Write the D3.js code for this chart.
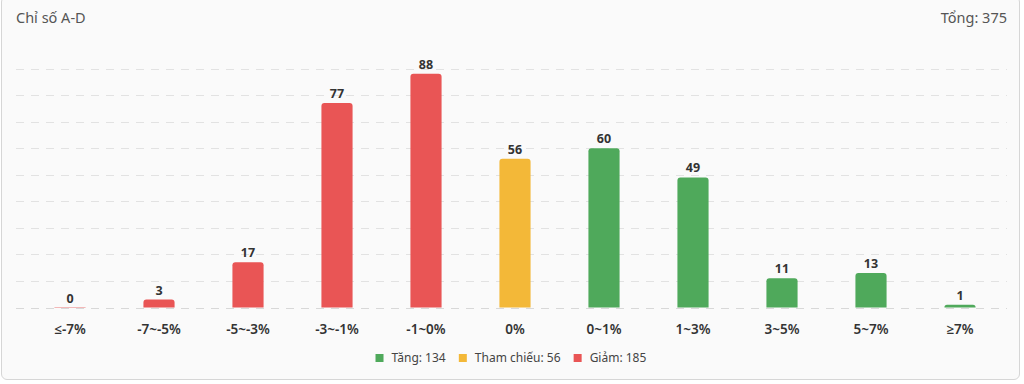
<!doctype html>
<html lang="vi">
<head>
<meta charset="UTF-8">
<title>Chỉ số A-D</title>
<script src="https://d3js.org/d3.v7.min.js"></script>
<style>
  html, body { margin: 0; padding: 0; background: #ffffff; }
  body { width: 1024px; height: 384px; overflow: hidden; font-family: "Noto Sans", "Open Sans", sans-serif; }
  #card {
    position: absolute; left: 1px; top: -4px; width: 1019px; height: 384px;
    box-sizing: border-box; border: 1px solid #d6d6d6; border-radius: 6px; background: #fafafa;
  }
  svg { position: absolute; left: 0; top: 0; }
</style>
</head>
<body>
<div id="card"></div>
<svg id="chart" width="1024" height="384"></svg>
<script>
  // data
  const categories = ["≤-7%", "-7~-5%", "-5~-3%", "-3~-1%", "-1~0%", "0%", "0~1%", "1~3%", "3~5%", "5~7%", "≥7%"];
  const counts = [0, 3, 17, 77, 88, 56, 60, 49, 11, 13, 1];
  const groups = ["down", "down", "down", "down", "down", "ref", "up", "up", "up", "up", "up"];
  const legendKeys = ["up", "ref", "down"];
  const legendLabels = ["Tăng: 134", "Tham chiếu: 56", "Giảm: 185"];
  const yTicks = [0, 10, 20, 30, 40, 50, 60, 70, 80, 90];
  const title = "Chỉ số A-D";
  const total = "Tổng: 375";

  const COLORS = { up: "#4fa95b", ref: "#f3b838", down: "#e95555" };

  const svg = d3.select("#chart");

  const x = d3.scaleBand().domain(categories).range([25.5, 1004.5]).paddingInner(0.65).paddingOuter(0.325);
  const y = d3.scaleLinear().domain([0, 90]).range([307.5, 68.5]);

  // header
  svg.append("text").attr("x", 16).attr("y", 23).text(title)
    .style("font-size", "14.5px").style("fill", "#555");
  svg.append("text").attr("x", 1007).attr("y", 23).attr("text-anchor", "end").text(total)
    .style("font-size", "14.5px").style("fill", "#555");

  // gridlines
  svg.append("g").selectAll("line").data(yTicks).join("line")
    .attr("x1", 16).attr("x2", 1007)
    .attr("y1", d => Math.round(y(d)) + 0.5).attr("y2", d => Math.round(y(d)) + 0.5)
    .style("stroke", d => d === 0 ? "#d8d8d8" : "#e2e2e2")
    .style("stroke-width", 1)
    .style("stroke-dasharray", "8,7");

  // bars with rounded top
  const r = 3;
  function barPath(d, i) {
    const x0 = x(categories[i]), w = x.bandwidth();
    const yb = y(0), yt = y(d);
    const h = yb - yt;
    if (h <= 0) return `M${x0},${yb - 0.5}h${w}v1h${-w}Z`;
    const rr = Math.min(r, h, w / 2);
    return `M${x0},${yb}V${yt + rr}Q${x0},${yt} ${x0 + rr},${yt}H${x0 + w - rr}Q${x0 + w},${yt} ${x0 + w},${yt + rr}V${yb}Z`;
  }
  svg.append("g").selectAll("path").data(counts).join("path")
    .attr("d", barPath)
    .style("fill", (d, i) => COLORS[groups[i]])
    .style("opacity", (d) => d === 0 ? 0.4 : 1);

  // value labels
  svg.append("g").selectAll("text").data(counts).join("text")
    .attr("x", (d, i) => x(categories[i]) + x.bandwidth() / 2)
    .attr("y", d => y(d) - 5)
    .attr("text-anchor", "middle")
    .text(d => d)
    .style("font-size", "12.5px").style("font-weight", "bold").style("fill", "#333");

  // x axis labels
  const xAxis = d3.axisBottom(x).tickSize(0).tickPadding(17);
  const gx = svg.append("g").attr("transform", `translate(0,${y(0)})`).call(xAxis);
  gx.select(".domain").remove();
  gx.selectAll("text").style("font-size", "13.5px").style("font-weight", "600").style("fill", "#333")
    .style("font-family", "'Noto Sans', 'Open Sans', sans-serif");

  // legend
  const legend = svg.append("g");
  const items = legend.selectAll("g").data(legendKeys).join("g");
  items.append("rect").attr("width", 8).attr("height", 8).attr("y", -4)
    .style("fill", d => COLORS[d]);
  items.append("text").attr("x", 16).attr("dy", "0.35em")
    .text((d, i) => legendLabels[i])
    .style("font-size", "12px").style("fill", "#444");
  let off = 0;
  const widths = [];
  items.each(function () { widths.push(this.getBBox().width); });
  const gap = 13;
  const totalW = d3.sum(widths) + gap * (widths.length - 1);
  let start = 511 - totalW / 2;
  items.attr("transform", (d, i) => {
    const t = `translate(${start + off},358)`;
    off += widths[i] + gap;
    return t;
  });
</script>
</body>
</html>
